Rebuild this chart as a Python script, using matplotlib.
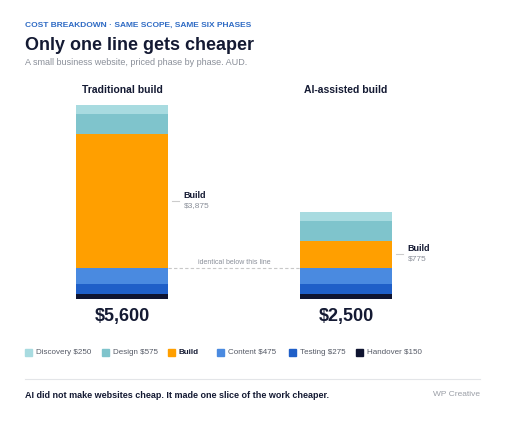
import matplotlib.pyplot as plt

plt.rcParams['font.family'] = ['Liberation Sans', 'DejaVu Sans']

# data (AUD)
bars = ["Traditional build", "AI-assisted build"]
totals = ["$5,600", "$2,500"]
phases = ["Handover", "Testing", "Content", "Build", "Design", "Discovery"]
handover = [150, 150]
testing = [275, 275]
content = [475, 475]
build = [3875, 775]
design = [575, 575]
discovery = [250, 250]
colors = ["#0f1430", "#1f5fc8", "#4a8ae0", "#ff9f00", "#7fc4cc", "#a8dbe0"]
legend_labels = ["Discovery $250", "Design $575", "Build", "Content $475",
                 "Testing $275", "Handover $150"]

W, H = 506, 422
fig = plt.figure(figsize=(W / 100, H / 100), dpi=100)

def fx(px):
    return px / W

def fy(py):
    return 1 - py / H

ax = fig.add_axes([fx(76), fy(299), fx(316), 194 / H])
bw = 92 / 224
ax.set_xlim(-bw / 2, 1 + bw / 2)
ax.set_ylim(0, 5600)
ax.axis('off')

series = [handover, testing, content, build, design, discovery]
xs = [0, 1]
bottom = [0, 0]
for vals, c in zip(series, colors):
    ax.bar(xs, vals, bw, bottom=bottom, color=c, linewidth=0)
    bottom = [b + v for b, v in zip(bottom, vals)]

dark = "#141a33"
grey = "#8a8f99"

for i, (name, tot) in enumerate(zip(bars, totals)):
    ax.text(i, bottom[i] + 300 if i == 0 else 5600 + 300, name, ha='center', va='bottom',
            fontsize=7.5, fontweight='bold', color=dark)
    ax.text(i, -250, tot, ha='center', va='top', fontsize=13, fontweight='bold', color=dark)

# build annotations
base = handover[0] + testing[0] + content[0]
for i in range(2):
    mid = base + build[i] / 2
    x0 = i + bw / 2 + 0.02
    ax.plot([x0, x0 + 0.03], [mid, mid], color="#cccccc", lw=0.8, clip_on=False)
    ax.text(x0 + 0.05, mid + 30, "Build", fontsize=6.5, fontweight='bold', color=dark,
            va='bottom')
    ax.text(x0 + 0.05, mid - 30, f"${build[i]:,}", fontsize=6, color=grey, va='top')

# identical line
ax.plot([bw / 2, 1 - bw / 2], [base, base], color="#c8c8c8", lw=0.8, ls=(0, (3, 2)))
ax.text(0.5, base + 60, "identical below this line", ha='center', va='bottom',
        fontsize=5, color=grey)

# header
fig.text(fx(25), fy(25), "COST BREAKDOWN · SAME SCOPE, SAME SIX PHASES", fontsize=6,
         fontweight='bold', color="#2f6bc4", va='center')
fig.text(fx(25), fy(45), "Only one line gets cheaper", fontsize=13, fontweight='bold',
         color=dark, va='center')
fig.text(fx(25), fy(63), "A small business website, priced phase by phase. AUD.",
         fontsize=6.5, color=grey, va='center')

# legend
leg_x = [25, 102, 168, 217, 289, 356]
leg_colors = colors[::-1]
for x, lab, c in zip(leg_x, legend_labels, leg_colors):
    fig.patches.append(plt.Rectangle((fx(x), fy(356)), fx(7), 7 / H, color=c,
                                     transform=fig.transFigure))
    fig.text(fx(x + 11), fy(352.5), lab, fontsize=5.8, va='center',
             color=dark if lab == "Build" else "#555a66",
             fontweight='bold' if lab == "Build" else 'normal')

# footer
fig.add_artist(plt.Line2D([fx(25), fx(480)], [fy(379), fy(379)], color="#e3e5e8", lw=0.8))
fig.text(fx(25), fy(395), "AI did not make websites cheap. It made one slice of the work cheaper.",
         fontsize=6.5, fontweight='bold', color=dark, va='center')
fig.text(fx(480), fy(395), "WP Creative", fontsize=6, color="#9a9ea6", va='center', ha='right')

fig.savefig("out.png", dpi=100)
